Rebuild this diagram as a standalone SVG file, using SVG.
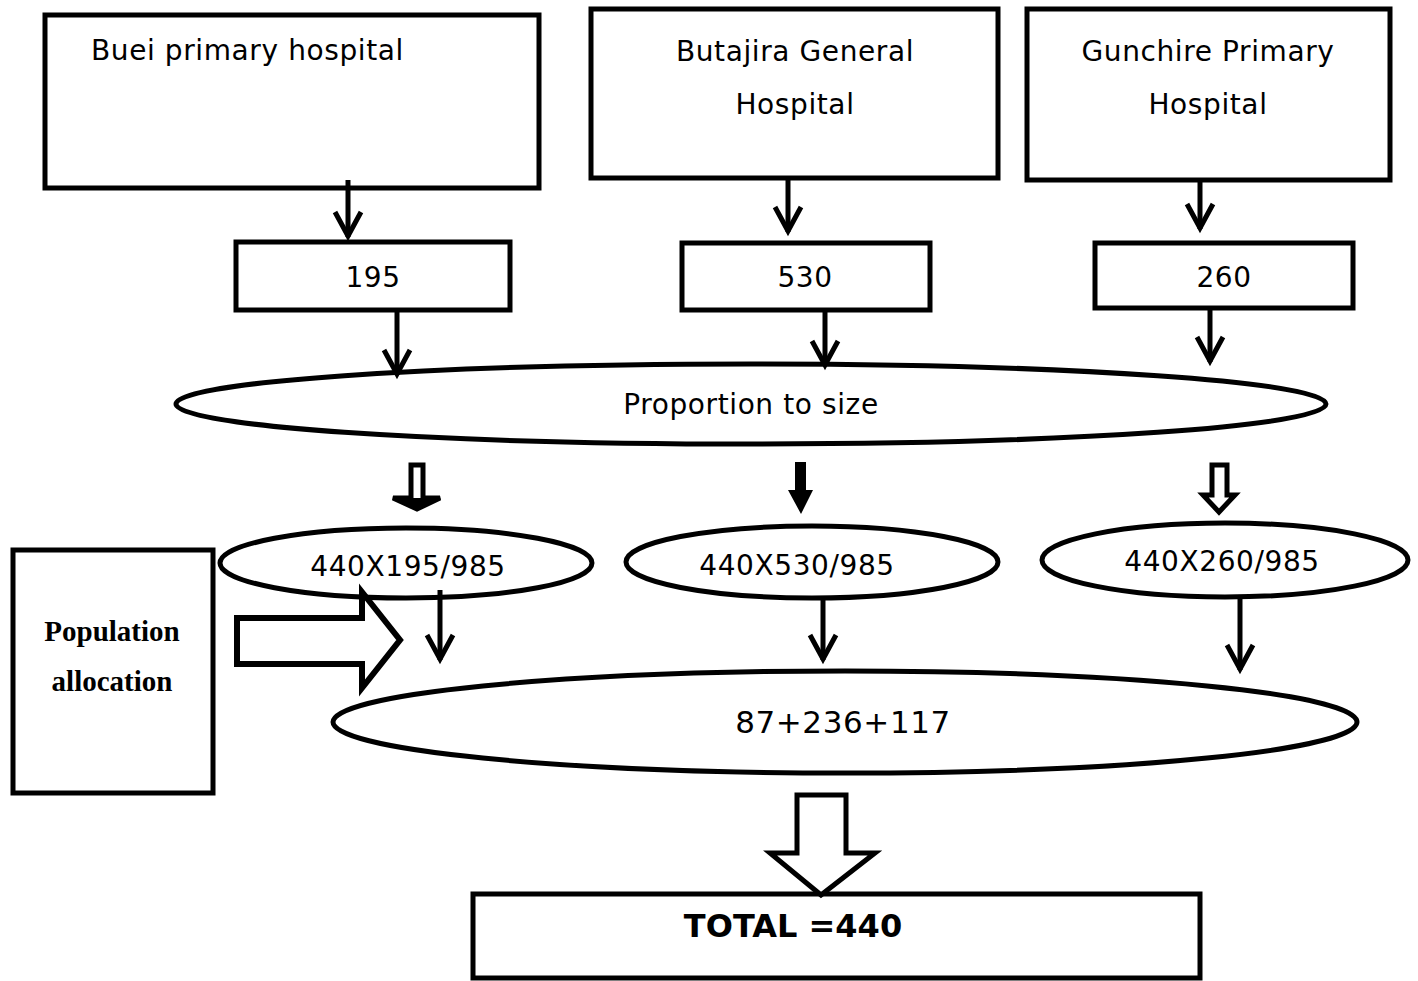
<svg xmlns="http://www.w3.org/2000/svg" width="1418" height="981" viewBox="0 0 1418 981">
<defs>
<style>
.box{fill:#fff;stroke:#000;stroke-width:5}
.ell{fill:#fff;stroke:#000;stroke-width:5}
.t{font-family:"DejaVu Sans",Verdana,sans-serif;font-size:28px;letter-spacing:0.6px;fill:#000}
.c{text-anchor:middle}
.ln{stroke:#000;stroke-width:5;fill:none}
.ser{font-family:"Liberation Serif","Times New Roman",serif;font-weight:bold;font-size:29px;text-anchor:middle}
</style>
<marker id="v" markerUnits="userSpaceOnUse" markerWidth="40" markerHeight="40" viewBox="-30 -20 40 40" refX="0" refY="0" orient="auto">
<path d="M-25,-13 L-1,0 L-25,13" fill="none" stroke="#000" stroke-width="5"/>
</marker>
</defs>
<rect width="1418" height="981" fill="#fff"/>
<g id="n-buei"><rect class="box" x="45" y="15" width="494" height="173"/><text class="t" x="91" y="60">Buei primary hospital</text></g>
<g id="n-butajira"><rect class="box" x="591" y="9" width="407" height="169"/><text class="t c" x="795" y="61">Butajira General</text><text class="t c" x="795" y="114">Hospital</text></g>
<g id="n-gunchire"><rect class="box" x="1027" y="9" width="363" height="171"/><text class="t c" x="1208" y="61">Gunchire Primary</text><text class="t c" x="1208" y="114">Hospital</text></g>
<g id="n-195"><rect class="box" x="236" y="242" width="274" height="68"/><text class="t c" x="373" y="287">195</text></g>
<g id="n-530"><rect class="box" x="682" y="243" width="248" height="67"/><text class="t c" x="805" y="287">530</text></g>
<g id="n-260"><rect class="box" x="1095" y="243" width="258" height="65"/><text class="t c" x="1224" y="287">260</text></g>
<g id="n-prop"><ellipse class="ell" cx="751" cy="404" rx="575" ry="40"/><text class="t c" x="751" y="414">Proportion to size</text></g>
<g id="n-e1"><ellipse class="ell" cx="406" cy="563" rx="186" ry="35"/><text class="t c" x="408" y="576">440X195/985</text></g>
<g id="n-e2"><ellipse class="ell" cx="812" cy="562" rx="186" ry="36"/><text class="t c" x="797" y="575">440X530/985</text></g>
<g id="n-e3"><ellipse class="ell" cx="1225" cy="560" rx="183" ry="37"/><text class="t c" x="1222" y="571">440X260/985</text></g>
<g id="n-pop"><rect class="box" x="13" y="550" width="200" height="243"/><text class="ser" x="112" y="641">Population</text><text class="ser" x="112" y="691">allocation</text></g>
<g id="n-sum"><ellipse class="ell" cx="845" cy="722" rx="512" ry="51"/><text class="t c" x="843" y="733" style="font-size:31px">87+236+117</text></g>
<g id="n-total"><rect class="box" x="473" y="894" width="727" height="84"/><text class="t c" x="793" y="937" style="font-weight:bold;font-size:32px;letter-spacing:0">TOTAL =440</text></g>
<g id="connectors">
<line class="ln" x1="348" y1="180" x2="348" y2="237" marker-end="url(#v)"/>
<line class="ln" x1="788" y1="180" x2="788" y2="232" marker-end="url(#v)"/>
<line class="ln" x1="1200" y1="180" x2="1200" y2="229" marker-end="url(#v)"/>
<line class="ln" x1="397" y1="310" x2="397" y2="375" marker-end="url(#v)"/>
<line class="ln" x1="825" y1="310" x2="825" y2="366" marker-end="url(#v)"/>
<line class="ln" x1="1210" y1="310" x2="1210" y2="362" marker-end="url(#v)"/>
<line class="ln" x1="440" y1="590" x2="440" y2="660" marker-end="url(#v)"/>
<line class="ln" x1="823" y1="598" x2="823" y2="660" marker-end="url(#v)"/>
<line class="ln" x1="1240" y1="596" x2="1240" y2="670" marker-end="url(#v)"/>
<polygon points="411,465 423,465 423,498 440,498 417,509 393,498 411,498" fill="#fff" stroke="#000" stroke-width="5" stroke-linejoin="miter"/>
<polygon points="393,498 441,498 417,510" fill="#000"/>
<polygon points="795,462 806,462 806,490 813,490 801,514 788,490 795,490" fill="#000"/>
<polygon points="1212,465 1227,465 1227,495 1235,495 1219,512 1203,495 1212,495" fill="#fff" stroke="#000" stroke-width="5"/>
<polygon points="237,618 362,618 362,592 400,640 362,688 362,664 237,664" fill="#fff" stroke="#000" stroke-width="6"/>
<polygon points="797,795 846,795 846,853 875,853 821,895 770,853 797,853" fill="#fff" stroke="#000" stroke-width="5"/>
</g>
</svg>
